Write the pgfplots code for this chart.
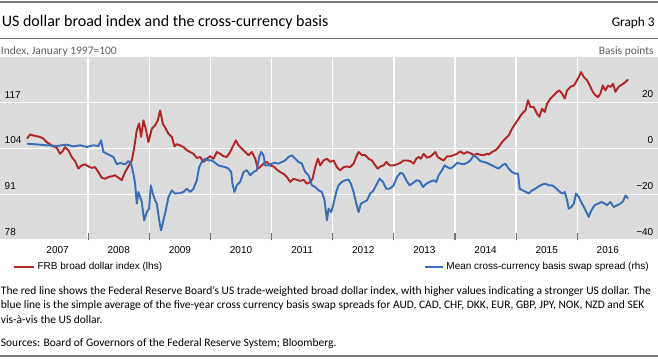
\documentclass[border=0pt]{standalone}
\usepackage{fontspec}
\setmainfont{Carlito}
\newfontfamily\arial{Liberation Sans}
\usepackage{pgfplots}
\usepackage{pgfplotstable}
\pgfplotsset{compat=1.18}
\definecolor{frbred}{RGB}{178,38,40}
\definecolor{ccbblue}{RGB}{58,110,182}
\definecolor{bg}{RGB}{220,220,220}
\definecolor{rulegray}{RGB}{120,120,120}
\definecolor{subgray}{RGB}{95,95,95}

\pgfplotstableread{
x y
2007.000 106.8
2007.049 108.0
2007.104 107.7
2007.158 107.5
2007.213 107.3
2007.267 106.8
2007.322 105.8
2007.376 105.2
2007.431 104.6
2007.486 104.2
2007.540 102.5
2007.584 103.3
2007.622 104.4
2007.676 103.5
2007.731 101.6
2007.786 100.4
2007.840 98.3
2007.895 99.2
2007.949 99.5
2008.004 98.9
2008.058 98.5
2008.113 98.7
2008.167 97.3
2008.222 95.7
2008.277 95.4
2008.331 95.9
2008.386 96.1
2008.440 96.4
2008.495 95.7
2008.549 95.0
2008.604 97.3
2008.658 98.9
2008.713 100.6
2008.751 104.0
2008.795 109.2
2008.833 111.1
2008.866 107.3
2008.904 112.0
2008.942 109.6
2008.986 105.8
2009.040 109.6
2009.095 110.6
2009.139 112.0
2009.177 114.8
2009.220 111.1
2009.270 109.6
2009.313 108.2
2009.368 107.3
2009.411 104.6
2009.450 105.2
2009.504 104.9
2009.559 104.4
2009.613 103.5
2009.668 103.0
2009.722 102.5
2009.777 101.3
2009.831 101.6
2009.886 100.2
2009.941 101.1
2009.995 101.8
2010.050 101.1
2010.104 103.0
2010.159 102.5
2010.213 101.8
2010.268 101.6
2010.322 103.0
2010.377 104.9
2010.415 106.3
2010.459 104.9
2010.513 104.0
2010.568 103.0
2010.622 102.1
2010.677 103.0
2010.732 101.1
2010.775 98.3
2010.813 98.7
2010.868 99.7
2010.922 100.2
2010.977 99.2
2011.032 98.9
2011.086 98.0
2011.141 97.3
2011.195 96.8
2011.250 95.9
2011.304 94.5
2011.359 95.4
2011.413 95.1
2011.468 94.8
2011.523 95.1
2011.577 94.0
2011.632 94.5
2011.670 95.4
2011.714 98.7
2011.757 101.1
2011.795 99.2
2011.850 100.6
2011.905 101.1
2011.959 100.2
2012.014 100.6
2012.068 98.7
2012.123 97.8
2012.177 98.7
2012.232 98.9
2012.286 98.7
2012.341 99.7
2012.396 102.1
2012.423 103.0
2012.477 102.1
2012.532 102.1
2012.586 101.1
2012.641 100.6
2012.696 99.2
2012.734 98.3
2012.778 98.9
2012.832 99.2
2012.876 100.2
2012.930 99.2
2012.996 99.2
2013.050 99.5
2013.105 99.9
2013.159 100.6
2013.214 100.6
2013.268 100.4
2013.323 99.7
2013.367 101.1
2013.405 101.6
2013.443 101.1
2013.487 102.5
2013.541 101.4
2013.585 101.6
2013.623 102.1
2013.678 103.0
2013.716 101.6
2013.760 101.1
2013.814 100.6
2013.869 101.8
2013.923 101.8
2013.978 102.1
2014.032 102.5
2014.087 103.2
2014.142 102.5
2014.196 103.0
2014.251 102.7
2014.305 102.1
2014.360 102.5
2014.414 102.2
2014.469 102.1
2014.523 102.5
2014.551 102.3
2014.605 103.0
2014.660 103.5
2014.714 104.4
2014.769 105.8
2014.823 106.8
2014.878 107.7
2014.932 109.6
2014.987 111.1
2015.042 112.5
2015.096 113.9
2015.151 114.8
2015.194 117.7
2015.232 115.8
2015.287 115.8
2015.341 113.9
2015.380 113.0
2015.423 115.3
2015.467 114.4
2015.505 116.7
2015.560 118.2
2015.614 119.1
2015.669 120.1
2015.707 120.5
2015.751 119.6
2015.794 118.2
2015.833 120.5
2015.887 121.5
2015.942 121.9
2015.980 122.9
2016.024 124.3
2016.062 125.7
2016.106 124.3
2016.160 123.4
2016.215 121.5
2016.253 120.1
2016.297 119.1
2016.340 118.6
2016.378 119.6
2016.417 121.9
2016.460 120.5
2016.504 121.9
2016.548 121.5
2016.586 122.4
2016.624 120.1
2016.673 121.5
2016.706 121.9
2016.750 122.4
2016.788 122.9
2016.831 123.6
}\frbtab

\pgfplotstableread{
x y
2007.000 2.1
2007.158 1.8
2007.322 1.4
2007.486 1.1
2007.649 1.7
2007.758 0.9
2007.867 1.4
2007.977 0.7
2008.086 1.4
2008.167 1.1
2008.211 3.6
2008.249 -1.5
2008.331 -2.6
2008.413 -3.7
2008.468 -6.9
2008.522 -6.3
2008.604 -6.9
2008.658 -5.5
2008.702 -6.6
2008.740 -11.0
2008.768 -15.4
2008.795 -24.1
2008.822 -19.0
2008.849 -21.2
2008.877 -23.4
2008.915 -31.4
2008.959 -27.8
2008.997 -26.3
2009.024 -16.1
2009.057 -19.7
2009.095 -22.7
2009.122 -24.1
2009.166 -32.1
2009.193 -35.8
2009.231 -31.4
2009.270 -27.0
2009.313 -21.2
2009.368 -18.3
2009.422 -19.7
2009.504 -19.5
2009.559 -19.0
2009.613 -17.6
2009.668 -19.0
2009.722 -17.6
2009.777 -13.9
2009.815 -8.1
2009.859 -5.9
2009.913 -4.4
2009.968 -5.2
2010.022 -5.2
2010.077 -6.3
2010.131 -7.4
2010.186 -7.8
2010.241 -8.1
2010.295 -8.8
2010.339 -10.3
2010.360 -15.4
2010.393 -19.0
2010.431 -16.1
2010.486 -14.6
2010.541 -10.3
2010.595 -9.5
2010.650 -11.7
2010.704 -10.3
2010.759 -9.5
2010.797 -3.7
2010.830 -1.5
2010.868 -3.0
2010.895 -7.4
2010.950 -7.4
2011.004 -6.6
2011.059 -6.3
2011.113 -6.6
2011.168 -5.9
2011.223 -5.2
2011.277 -3.7
2011.332 -3.0
2011.386 -4.4
2011.441 -5.9
2011.495 -6.6
2011.550 -10.3
2011.605 -11.7
2011.659 -16.1
2011.714 -16.8
2011.768 -18.3
2011.823 -19.0
2011.866 -22.7
2011.905 -31.4
2011.932 -26.3
2011.975 -27.8
2012.014 -24.1
2012.057 -19.0
2012.095 -16.1
2012.150 -14.6
2012.205 -13.9
2012.259 -13.6
2012.297 -15.4
2012.341 -19.0
2012.385 -24.1
2012.423 -27.8
2012.461 -24.1
2012.505 -23.4
2012.559 -22.7
2012.614 -19.7
2012.668 -18.3
2012.723 -15.4
2012.767 -13.2
2012.821 -14.6
2012.876 -17.6
2012.930 -17.6
2012.996 -16.1
2013.050 -12.5
2013.105 -10.7
2013.148 -11.0
2013.203 -13.9
2013.257 -16.1
2013.312 -15.1
2013.367 -13.9
2013.421 -14.2
2013.476 -16.8
2013.530 -15.4
2013.585 -14.6
2013.650 -13.9
2013.694 -14.6
2013.732 -11.7
2013.787 -9.5
2013.830 -7.4
2013.869 -8.1
2013.923 -8.8
2013.978 -7.8
2014.032 -6.3
2014.087 -6.6
2014.142 -6.9
2014.196 -6.3
2014.251 -5.2
2014.305 -3.0
2014.360 -4.0
2014.414 -5.5
2014.469 -5.9
2014.523 -6.3
2014.605 -7.4
2014.660 -8.1
2014.714 -8.8
2014.769 -7.4
2014.823 -6.6
2014.878 -8.8
2014.932 -10.3
2014.987 -11.0
2015.031 -11.0
2015.058 -17.6
2015.107 -18.3
2015.162 -19.0
2015.205 -19.7
2015.260 -18.3
2015.314 -17.6
2015.369 -16.5
2015.423 -15.8
2015.478 -15.4
2015.532 -16.1
2015.587 -16.1
2015.642 -17.1
2015.696 -18.6
2015.751 -19.7
2015.794 -19.0
2015.833 -22.7
2015.860 -26.3
2015.904 -25.6
2015.942 -24.1
2015.980 -19.7
2016.024 -21.2
2016.078 -24.1
2016.122 -26.3
2016.149 -27.8
2016.187 -29.9
2016.231 -27.0
2016.285 -24.8
2016.340 -24.1
2016.395 -23.4
2016.449 -24.1
2016.487 -24.8
2016.542 -23.4
2016.597 -25.6
2016.651 -24.8
2016.706 -24.1
2016.750 -23.0
2016.788 -20.5
2016.831 -21.9
}\ccbtab

\newcommand{\tickfont}{\arial\fontsize{7.5}{9}\selectfont}
\newcommand{\notefont}{\fontsize{8.6}{10.5}\selectfont}

\begin{document}
\begin{tikzpicture}
\path[use as bounding box] (0,0) rectangle (493.5pt,268.5pt);
\pgfplotsset{common/.style={
  at={(0pt,88.5pt)}, anchor=south west, scale only axis,
  width=493.5pt, height=137.25pt,
  xmin=2006.558, xmax=2017.32,
  axis line style={draw=none},
  tick label style={font=\tickfont},
  ytick style={draw=none},
  legend cell align=left,
  clip=true}}
\begin{axis}[common, ymin=78, ymax=130,
  axis background/.style={fill=bg},
  xtick={2008,2009,2010,2011,2012,2013,2014,2015,2016},
  xticklabels={,,,,,,,,},
  xmajorgrids, ymajorgrids,
  major grid style={white, line width=1.1pt},
  xtick pos=left, tick align=inside, major tick length=5.25pt,
  xtick style={draw=black!55, line width=0.8pt},
  extra x ticks={2007.5,2008.5,2009.5,2010.5,2011.5,2012.5,2013.5,2014.5,2015.5,2016.5},
  extra x tick labels={2007,2008,2009,2010,2011,2012,2013,2014,2015,2016},
  extra x tick style={grid=none, major tick length=0pt, xticklabel style={yshift=-1.6pt}},
  ytick={78,91,104,117}, yticklabels={78,91,104,117},
  ytick pos=left,
  yticklabel style={anchor=south west},
  legend style={at={(0.0198,-0.1457)}, anchor=west, draw=none, fill=none,
    inner sep=0pt, outer sep=0pt, font=\tickfont},
  legend image code/.code={\draw[#1] (0pt,0pt) -- (15pt,0pt);}
]
\addplot[frbred, line width=1.45pt, line join=round] table[x=x, y=y] {\frbtab};
\addlegendentry{FRB broad dollar index (lhs)}
\end{axis}
\begin{axis}[common, ymin=-40, ymax=40,
  xtick=\empty,
  ytick={-40,-20,0,20}, yticklabels={−40,−20,0,20},
  ytick pos=right,
  yticklabel style={anchor=south east},
  legend style={at={(0.99,-0.1457)}, anchor=east, draw=none, fill=none,
    inner sep=0pt, outer sep=0pt, font=\tickfont},
  legend image code/.code={\draw[#1] (0pt,0pt) -- (13.5pt,0pt);}
]
\addplot[ccbblue, line width=1.45pt, line join=round] table[x=x, y=y] {\ccbtab};
\addlegendentry{Mean cross-currency basis swap spread (rhs)}
\end{axis}
% frame and text
\draw[rulegray, line width=1.5pt] (0,267.3pt) -- (493.5pt,267.3pt);
\draw[rulegray, line width=0.75pt] (0,239.25pt) -- (493.5pt,239.25pt);
\draw[rulegray, line width=1.5pt] (0,1.3pt) -- (493.5pt,1.3pt);
\node[anchor=base west, inner sep=0pt, font=\fontsize{12}{14}\selectfont] at (1.2pt,248.5pt) {US dollar broad index and the cross-currency basis};
\node[anchor=base east, inner sep=0pt, font=\fontsize{10}{12}\selectfont] at (491.25pt,248.3pt) {Graph 3};
\node[anchor=base west, inner sep=0pt, text=subgray, font=\fontsize{8.6}{10}\selectfont] at (0.5pt,227.7pt) {Index, January 1997=100};
\node[anchor=base east, inner sep=0pt, text=subgray, font=\fontsize{8.6}{10}\selectfont] at (490.5pt,227.7pt) {Basis points};
\node[anchor=base west, inner sep=0pt, font=\notefont] at (0.5pt,47.4pt) {The red line shows the Federal Reserve Board's US trade-weighted broad dollar index, with higher values indicating a stronger US dollar. The};
\node[anchor=base west, inner sep=0pt, font=\notefont] at (0.5pt,36.9pt) {blue line is the simple average of the five-year cross currency basis swap spreads for AUD, CAD, CHF, DKK, EUR, GBP, JPY, NOK, NZD and SEK};
\node[anchor=base west, inner sep=0pt, font=\notefont] at (0.5pt,26.2pt) {vis-à-vis the US dollar.};
\node[anchor=base west, inner sep=0pt, font=\notefont] at (0.5pt,8.6pt) {Sources: Board of Governors of the Federal Reserve System; Bloomberg.};
\end{tikzpicture}
\end{document}
